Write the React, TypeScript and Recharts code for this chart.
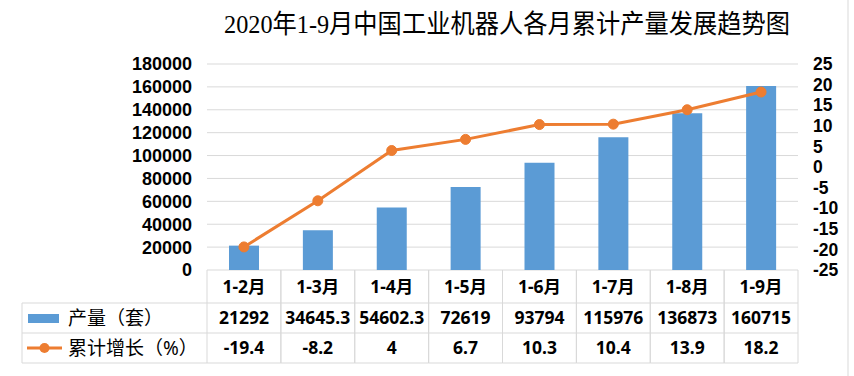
import React from "react";
import { ComposedChart, Bar, Line, XAxis, YAxis, CartesianGrid } from "recharts";

const months = ["1-2月", "1-3月", "1-4月", "1-5月", "1-6月", "1-7月", "1-8月", "1-9月"];
const output = [21292, 34645.3, 54602.3, 72619, 93794, 115976, 136873, 160715];
const growth = [-19.4, -8.2, 4, 6.7, 10.3, 10.4, 13.9, 18.2];
const leftTicks = [0, 20000, 40000, 60000, 80000, 100000, 120000, 140000, 160000, 180000];
const rightTicks = [-25, -20, -15, -10, -5, 0, 5, 10, 15, 20, 25];

const TITLE = "2020年1-9月中国工业机器人各月累计产量发展趋势图";
const OUTPUT_LABEL = "产量（套）";
const GROWTH_LABEL = "累计增长（%）";

const BLUE = "#5B9BD5";
const ORANGE = "#ED7D31";
const BORDER = "#D9D9D9";
const FONT = "'Noto Sans', 'Noto Sans CJK SC', sans-serif";
const AXIS_FONT = "'Liberation Sans', 'Noto Sans CJK SC', sans-serif";

// chart box
const W = 854;
const H = 376;
const PLOT_L = 207;
const PLOT_R = 798;
const BAND = (PLOT_R - PLOT_L) / months.length;

// table rows under the plot
const ROW_TOP = 270;
const ROW1 = 303;
const ROW2 = 333;
const ROW3 = 363;
const LEGEND_L = 22;

const data = months.map((m, i) => ({ month: m, output: output[i], growth: growth[i] }));

function TableTick(props: any) {
  const { x, index } = props;
  const l = x - BAND / 2;
  const r = x + BAND / 2;
  const txt = { fontFamily: FONT, fontSize: 17.5, fontWeight: 700, fill: "#000", textAnchor: "middle" as const };
  return (
    <g>
      <line x1={l} y1={ROW_TOP} x2={l} y2={ROW3} stroke={BORDER} />
      <line x1={r} y1={ROW_TOP} x2={r} y2={ROW3} stroke={BORDER} />
      <line x1={l} y1={ROW1} x2={r} y2={ROW1} stroke={BORDER} />
      <line x1={l} y1={ROW2} x2={r} y2={ROW2} stroke={BORDER} />
      <line x1={l} y1={ROW3} x2={r} y2={ROW3} stroke={BORDER} />
      <text x={x} y={(ROW_TOP + ROW1) / 2} dy="0.36em" {...txt}>{months[index]}</text>
      <text x={x} y={(ROW1 + ROW2) / 2} dy="0.36em" {...txt}>{String(output[index])}</text>
      <text x={x} y={(ROW2 + ROW3) / 2} dy="0.36em" {...txt}>{String(growth[index])}</text>
    </g>
  );
}

export default function App() {
  const leftTick = { fill: "#000", fontSize: 18, fontWeight: 700, fontFamily: AXIS_FONT };
  const rightTick = { fill: "#000", fontSize: 17.5, fontWeight: 700, fontFamily: AXIS_FONT };
  return (
    <div style={{ position: "relative", width: W, height: H, background: "#fff" }}>
      <style>{"body{margin:0}"}</style>
      <ComposedChart width={W} height={H} data={data} margin={{ top: 64, right: 6, bottom: 6, left: 127 }}>
        <CartesianGrid yAxisId="left" vertical={false} stroke={BORDER} />
        <XAxis
          dataKey="month"
          height={100}
          axisLine={false}
          tickLine={false}
          tickSize={0}
          interval={0}
          tick={(p: any) => <TableTick {...p} />}
        />
        <YAxis
          yAxisId="left"
          width={80}
          domain={[0, 180000]}
          ticks={leftTicks}
          interval={0}
          axisLine={false}
          tickLine={false}
          tickSize={0}
          tickMargin={15}
          tick={leftTick}
        />
        <YAxis
          yAxisId="right"
          orientation="right"
          width={50}
          domain={[-25, 25]}
          ticks={rightTicks}
          interval={0}
          axisLine={false}
          tickLine={false}
          tickSize={0}
          tickMargin={15}
          tick={rightTick}
        />
        <Bar yAxisId="left" dataKey="output" fill={BLUE} barSize={30} isAnimationActive={false} />
        <Line
          yAxisId="right"
          type="linear"
          dataKey="growth"
          stroke={ORANGE}
          strokeWidth={3}
          dot={{ r: 5, fill: ORANGE, stroke: ORANGE, strokeWidth: 1 }}
          isAnimationActive={false}
        />
      </ComposedChart>

      {/* title, legend column and frame */}
      <svg width={W} height={H} style={{ position: "absolute", left: 0, top: 0, pointerEvents: "none" }}>
        <rect x={-1} y={-1} width={849} height={H + 2} fill="none" stroke={BORDER} />
        <text
          x={507}
          y={33}
          textAnchor="middle"
          fontFamily="'Liberation Serif', 'Noto Sans CJK SC', serif"
          fontSize={26}
          textLength={566}
          lengthAdjust="spacingAndGlyphs"
          fill="#000"
        >
          {TITLE}
        </text>
        <line x1={LEGEND_L} y1={ROW1} x2={PLOT_L} y2={ROW1} stroke={BORDER} />
        <line x1={LEGEND_L} y1={ROW2} x2={PLOT_L} y2={ROW2} stroke={BORDER} />
        <line x1={LEGEND_L} y1={ROW3} x2={PLOT_L} y2={ROW3} stroke={BORDER} />
        <line x1={LEGEND_L} y1={ROW1} x2={LEGEND_L} y2={ROW3} stroke={BORDER} />
        <rect x={28} y={314} width={31} height={9} fill={BLUE} />
        <text x={68} y={(ROW1 + ROW2) / 2} dy="0.36em" fontFamily={FONT} fontSize={19} fill="#000">
          {OUTPUT_LABEL}
        </text>
        <line x1={27} y1={348} x2={62} y2={348} stroke={ORANGE} strokeWidth={3} />
        <circle cx={44.5} cy={348} r={5} fill={ORANGE} />
        <text x={68} y={(ROW2 + ROW3) / 2} dy="0.36em" fontFamily={FONT} fontSize={19} fill="#000">
          {GROWTH_LABEL}
        </text>
      </svg>
    </div>
  );
}
